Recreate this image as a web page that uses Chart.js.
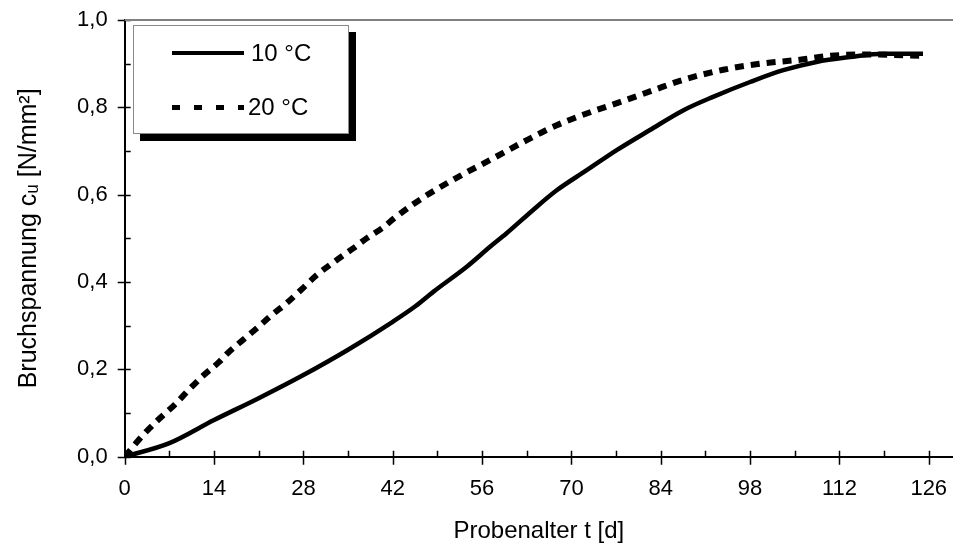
<!DOCTYPE html>
<html>
<head>
<meta charset="utf-8">
<script src="https://cdn.jsdelivr.net/npm/chart.js@4"></script>
<style>
  html, body { margin:0; padding:0; background:#fff; }
  #wrap { position:relative; width:953px; height:551px; }
  #legende { position:absolute; left:133px; top:25px; width:214px; height:107px; border:1px solid #8a8a8a;
    background:#fff; box-shadow:7px 7px 0 #000; font-family:"Liberation Sans", Arial, sans-serif; font-size:24px; color:#000; }
  .eintrag { position:absolute; left:0; height:28px; line-height:28px; }
  .probe { position:absolute; left:38px; width:72px; }
  .voll { height:4px; background:#000; }
  .strich { height:5px; background:repeating-linear-gradient(to right, #000 0 8px, transparent 8px 22px); }
  .txt { position:absolute; white-space:nowrap; }
</style>
</head>
<body>
<div id="wrap">
  <canvas id="grafik" width="953" height="551"></canvas>
  <div id="legende">
    <div class="eintrag" style="top:13px;width:214px">
      <div class="probe voll" style="top:12px"></div>
      <span class="txt" style="left:117px">10 °C</span>
    </div>
    <div class="eintrag" style="top:67px;width:214px">
      <div class="probe strich" style="top:12px"></div>
      <span class="txt" style="left:114px">20 °C</span>
    </div>
  </div>
</div>
<script>
const tage10 = [0, 7, 14, 21, 28, 35, 42, 45.6, 48.4, 53.6, 57.2, 59.8, 64, 67.7, 72.4, 77.1, 82.3, 87.5, 92.2, 98, 103.2, 108.4, 113.6, 118.9, 125.1];
const werte10 = [0, 0.031, 0.084, 0.134, 0.187, 0.245, 0.309, 0.345, 0.378, 0.435, 0.48, 0.511, 0.565, 0.61, 0.656, 0.702, 0.748, 0.793, 0.824, 0.858, 0.885, 0.904, 0.915, 0.923, 0.923];

const tage20 = [0, 2.9, 5.5, 7.9, 10.1, 12.4, 14.8, 16.2, 18.5, 20.7, 23, 25.4, 27.7, 30.1, 33.2, 35.8, 37.9, 40.3, 42.5, 45.2, 47.8, 52.8, 57.2, 62.5, 67.7, 72.4, 77.6, 82.8, 87.5, 93.8, 99.6, 105.8, 110.5, 116.3, 125.1];
const werte20 = [0, 0.05, 0.088, 0.12, 0.154, 0.187, 0.217, 0.238, 0.267, 0.294, 0.324, 0.352, 0.383, 0.416, 0.45, 0.477, 0.5, 0.523, 0.549, 0.578, 0.603, 0.645, 0.679, 0.721, 0.759, 0.786, 0.812, 0.839, 0.863, 0.886, 0.9, 0.909, 0.918, 0.921, 0.918];

const xTicks = [0, 7, 14, 21, 28, 35, 42, 49, 56, 63, 70, 77, 84, 91, 98, 105, 112, 119, 126];
const yTicks = [0, 0.1, 0.2, 0.3, 0.4, 0.5, 0.6, 0.7, 0.8, 0.9, 1.0];

const schrift = '"Liberation Sans", Arial, sans-serif';

// Tickstriche wie im Original: Haupt-Ticks kreuzen die Achse, Zwischen-Ticks nur innen
const tickStriche = {
  id: 'tickStriche',
  afterDraw(chart) {
    const { ctx, chartArea, scales } = chart;
    ctx.save();
    ctx.strokeStyle = '#000';
    ctx.lineWidth = 1.5;
    ctx.beginPath();
    xTicks.forEach(v => {
      const px = Math.round(scales.x.getPixelForValue(v)) + 0.5;
      const major = v % 14 === 0;
      ctx.moveTo(px, chartArea.bottom - 6);
      ctx.lineTo(px, chartArea.bottom + (major ? 8 : 0));
    });
    yTicks.forEach(v => {
      const py = Math.round(scales.y.getPixelForValue(v)) + 0.5;
      const major = Math.round(v * 10) % 2 === 0;
      ctx.moveTo(chartArea.left - (major ? 7 : 0), py);
      ctx.lineTo(chartArea.left + 6, py);
    });
    ctx.stroke();
    // Rahmen oben
    ctx.strokeStyle = '#808080';
    ctx.lineWidth = 2;
    ctx.beginPath();
    ctx.moveTo(chartArea.left, chartArea.top);
    ctx.lineTo(chartArea.right, chartArea.top);
    ctx.stroke();
    ctx.restore();
  }
};

new Chart(document.getElementById('grafik').getContext('2d'), {
  type: 'line',
  data: {
    datasets: [
      { label: '10 °C', data: tage10.map((t, i) => ({ x: t, y: werte10[i] })),
        borderColor: '#000', borderWidth: 4.5, pointRadius: 0, cubicInterpolationMode: 'monotone', fill: false },
      { label: '20 °C', data: tage20.map((t, i) => ({ x: t, y: werte20[i] })),
        borderColor: '#000', borderWidth: 6, borderDash: [9, 7], pointRadius: 0, cubicInterpolationMode: 'monotone', fill: false }
    ]
  },
  options: {
    responsive: false,
    animation: false,
    layout: { padding: { top: 20, right: 0, bottom: 0, left: 0 } },
    plugins: { legend: { display: false }, tooltip: { enabled: false } },
    scales: {
      x: {
        type: 'linear', min: 0, max: 129.8,
        afterBuildTicks: s => { s.ticks = xTicks.map(v => ({ value: v })); },
        afterFit: s => { s.height = 94.3; s.paddingLeft = 0; s.paddingRight = 0; },
        grid: { display: false, drawTicks: false },
        border: { display: true, color: '#000', width: 2 },
        ticks: { autoSkip: false, maxRotation: 0, padding: 19, color: '#000', font: { family: schrift, size: 22 },
          callback: v => (v % 14 === 0 ? String(v) : '') },
        title: { display: true, text: 'Probenalter t [d]', color: '#000', font: { family: schrift, size: 24 }, padding: { top: 0, bottom: 5 } }
      },
      y: {
        type: 'linear', min: 0, max: 1,
        afterBuildTicks: s => { s.ticks = yTicks.map(v => ({ value: v })); },
        afterFit: s => { s.width = 124.7; s.paddingTop = 0; s.paddingBottom = 0; },
        grid: { display: false, drawTicks: false },
        border: { display: true, color: '#000', width: 2 },
        ticks: { autoSkip: false, padding: 17, color: '#000', font: { family: schrift, size: 22 },
          callback: v => (Math.round(v * 10) % 2 === 0 ? v.toFixed(1).replace('.', ',') : '') },
        title: { display: true, text: 'Bruchspannung cᵤ [N/mm²]', color: '#000', font: { family: schrift, size: 25 }, padding: { top: 14, bottom: 0 } }
      }
    }
  },
  plugins: [tickStriche]
});
</script>
</body>
</html>
